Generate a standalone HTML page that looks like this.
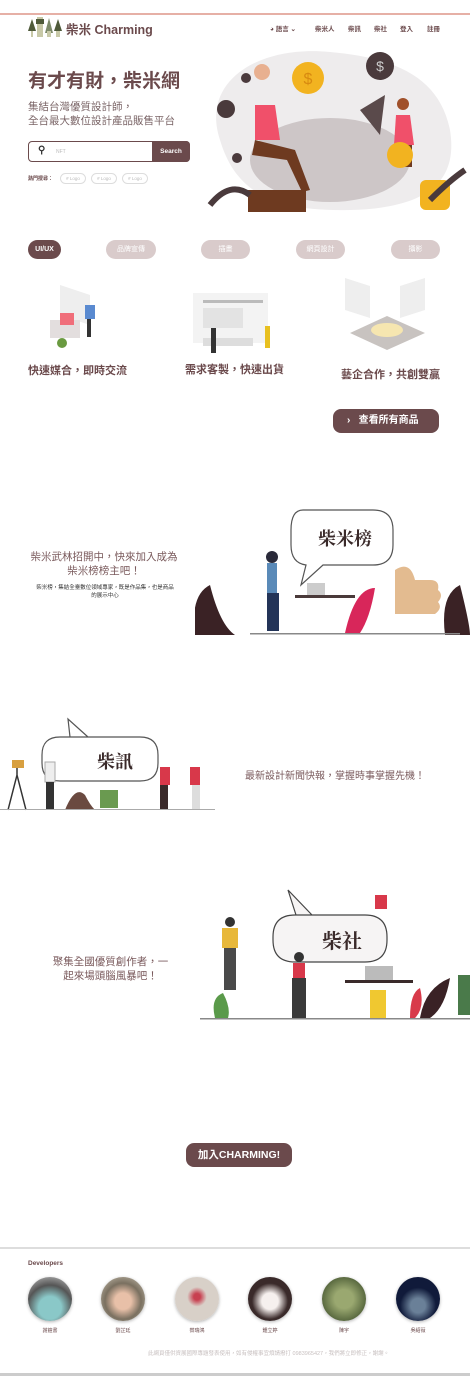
<!DOCTYPE html>
<html><head><meta charset="utf-8">
<style>
*{margin:0;padding:0;box-sizing:border-box}
body{width:470px;height:1376px;position:relative;background:#fff;font-family:"Liberation Sans","Noto Sans CJK TC",sans-serif;color:#6b4a4c;overflow:hidden}
.a{position:absolute}
.pill{position:absolute;top:240px;height:19px;border-radius:10px;background:#d9cbcb;color:#fff;font-size:7px;text-align:center;line-height:19px}
.cap{position:absolute;font-size:11px;font-weight:bold;color:#6b4a4c}
.av{position:absolute;top:1277px;width:44px;height:44px;border-radius:50%;box-shadow:0 1px 3px rgba(0,0,0,.3)}
.nm{position:absolute;top:1327px;font-size:5px;color:#6b4a4c;width:44px;text-align:center}
</style></head><body>
<div class="a" style="left:0;top:13px;width:470px;height:1.5px;background:#e6b0a6"></div>

<svg class="a" style="left:28px;top:15px" width="34" height="24">
<polygon points="4,4 0,16 8,16" fill="#4f5a3a"/><rect x="3" y="16" width="2" height="6" fill="#c8c9a8"/>
<rect x="9" y="2" width="6" height="20" fill="#c8c9a8"/><rect x="8" y="4" width="8" height="5" fill="#4f5a3a"/>
<polygon points="21,3 17,18 25,18" fill="#7d8a6a"/><rect x="19" y="16" width="4" height="6" fill="#c8c9a8"/>
<polygon points="30,4 26,16 34,16" fill="#4f5a3a"/><rect x="28" y="16" width="4" height="6" fill="#c8c9a8"/>
</svg>
<div class="a" style="left:66px;top:19px;font-size:12.5px;font-weight:bold">柴米 Charming</div>
<div class="a" style="left:270px;top:23px;font-size:6.5px;font-weight:bold">◕ 語言 ⌄</div>
<div class="a" style="left:315px;top:23px;font-size:6.5px;font-weight:bold">柴米人</div>
<div class="a" style="left:348px;top:23px;font-size:6.5px;font-weight:bold">柴訊</div>
<div class="a" style="left:374px;top:23px;font-size:6.5px;font-weight:bold">柴社</div>
<div class="a" style="left:400px;top:23px;font-size:6.5px;font-weight:bold">登入</div>
<div class="a" style="left:427px;top:23px;font-size:6.5px;font-weight:bold">註冊</div>

<div class="a" style="left:28px;top:66px;font-size:19px;font-weight:bold">有才有財，柴米網</div>
<div class="a" style="left:28px;top:100px;font-size:10.5px;line-height:14px;color:#7a6466">集結台灣優質設計師，<br>全台最大數位設計產品販售平台</div>
<div class="a" style="left:28px;top:141px;width:162px;height:21px;border:1px solid #6b4a4c;border-radius:4px"></div>
<div class="a" style="left:38px;top:145px;font-size:10px;font-weight:bold;color:#333">⚲</div>
<div class="a" style="left:56px;top:149px;font-size:5px;color:#bbb">NFT</div>
<div class="a" style="left:152px;top:141px;width:38px;height:21px;background:#6b4a4c;border-radius:0 4px 4px 0;color:#fff;font-size:6.5px;font-weight:bold;text-align:center;line-height:21px">Search</div>
<div class="a" style="left:28px;top:175px;font-size:5px;font-weight:bold">熱門搜尋：</div>
<div class="a" style="left:60px;top:173px;width:26px;height:11px;border:1px solid #ddd;border-radius:6px;font-size:4.5px;color:#bbb;text-align:center;line-height:10px"># Logo</div>
<div class="a" style="left:91px;top:173px;width:26px;height:11px;border:1px solid #ddd;border-radius:6px;font-size:4.5px;color:#bbb;text-align:center;line-height:10px"># Logo</div>
<div class="a" style="left:122px;top:173px;width:26px;height:11px;border:1px solid #ddd;border-radius:6px;font-size:4.5px;color:#bbb;text-align:center;line-height:10px"># Logo</div>

<svg class="a" style="left:200px;top:40px" width="270" height="175">
<path d="M20,100 C0,40 60,5 130,12 C200,18 240,40 250,90 C258,140 230,168 150,170 C70,172 35,150 20,100Z" fill="#eeeced"/>
<ellipse cx="130" cy="120" rx="80" ry="42" fill="#cdc6c7"/>
<polygon points="160,70 185,55 180,95" fill="#5a4a4b"/>
<circle cx="180" cy="26" r="14" fill="#4a3a3c"/><text x="180" y="31" font-size="14" fill="#ccc" text-anchor="middle">$</text>
<circle cx="108" cy="38" r="16" fill="#f2b320"/><text x="108" y="44" font-size="16" fill="#d88a10" text-anchor="middle">$</text>
<circle cx="26" cy="69" r="9" fill="#4a3a3c"/><circle cx="46" cy="38" r="5" fill="#4a3a3c"/><circle cx="37" cy="118" r="5" fill="#4a3a3c"/>
<path d="M55,65 h20 l5,35 h-25z" fill="#f0506a"/><path d="M55,100 l40,10 l15,40 l-8,2 l-15-32 l-35-5z" fill="#6e3a20"/>
<circle cx="62" cy="32" r="8" fill="#e8b090"/>
<path d="M196,75 h14 l4,30 h-20z" fill="#f0506a"/><rect x="198" y="105" width="14" height="22" fill="#6e3a20"/><circle cx="203" cy="64" r="6" fill="#a0502a"/>
<circle cx="200" cy="115" r="13" fill="#f2b320"/>
<rect x="220" y="140" width="30" height="30" rx="6" fill="#f2b320"/><rect x="48" y="150" width="58" height="22" fill="#6e3a20"/>
<path d="M10,165 q20,-25 40,-10 M230,160 q20,-20 35,-30" stroke="#4a3a3c" stroke-width="6" fill="none"/>
</svg>

<div class="pill" style="left:28px;width:33px;background:#6b4a4c;font-weight:bold">UI/UX</div>
<div class="pill" style="left:106px;width:50px">品牌宣傳</div>
<div class="pill" style="left:201px;width:49px">插畫</div>
<div class="pill" style="left:296px;width:49px">網頁設計</div>
<div class="pill" style="left:391px;width:49px">攝影</div>

<svg class="a" style="left:45px;top:285px" width="65" height="72">
<polygon points="15,0 45,10 45,40 15,30" fill="#eee"/><rect x="5" y="35" width="30" height="18" fill="#e3dede"/>
<rect x="15" y="28" width="14" height="12" fill="#f06e7a"/><rect x="40" y="20" width="10" height="14" fill="#5a8ad0"/>
<rect x="42" y="34" width="4" height="18" fill="#333"/><circle cx="17" cy="58" r="5" fill="#6a9a40"/>
</svg>
<svg class="a" style="left:183px;top:288px" width="95" height="75">
<rect x="10" y="5" width="75" height="50" fill="#f3f3f3"/><rect x="20" y="12" width="60" height="3" fill="#bbb"/>
<rect x="20" y="20" width="40" height="20" fill="#e3e3e3"/><rect x="20" y="50" width="50" height="8" fill="#ddd"/>
<rect x="28" y="40" width="5" height="25" fill="#333"/><rect x="82" y="38" width="5" height="22" fill="#e8c020"/>
</svg>
<svg class="a" style="left:345px;top:278px" width="85" height="85">
<polygon points="0,0 25,8 25,40 0,32" fill="#eee"/><polygon points="55,8 80,0 80,32 55,40" fill="#eee"/>
<polygon points="5,55 42,38 80,55 42,72" fill="#c8c3c0"/><ellipse cx="42" cy="52" rx="16" ry="7" fill="#f6e6b0"/>
</svg>

<div class="cap" style="left:28px;top:362px">快速媒合，即時交流</div>
<div class="cap" style="left:185px;top:361px">需求客製，快速出貨</div>
<div class="cap" style="left:341px;top:366px">藝企合作，共創雙贏</div>

<div class="a" style="left:333px;top:409px;width:106px;height:24px;background:#6b4a4c;border-radius:8px;color:#fff;font-size:10px;font-weight:bold;line-height:24px;padding-left:14px">›&nbsp;&nbsp; 查看所有商品</div>

<div class="a" style="left:28px;top:550px;width:152px;text-align:center;font-size:10.5px;line-height:14px;color:#7a5a5c">柴米武林招開中，快來加入成為柴米榜榜主吧！</div>
<div class="a" style="left:36px;top:585px;width:138px;text-align:center;font-size:5.5px;line-height:7.5px;color:#333">柴米榜，集結全臺數位領域專家，既是作品集，也是商品的展示中心</div>
<svg class="a" style="left:195px;top:505px" width="275" height="135">
<path d="M108,5 h70 q20,0 20,20 v15 q0,20 -20,20 h-50 l-22,20 l5,-20 q-15,-2 -15,-20 v-15 q0,-20 12,-20z" fill="#fff" stroke="#555" stroke-width="1.2"/>
<text x="150" y="40" font-size="18" font-weight="bold" text-anchor="middle" fill="#3a2a2a" font-family="Noto Serif CJK SC,serif">柴米榜</text>
<path d="M200,65 q15,-10 20,10 h15 q10,0 8,10 q6,5 0,12 q5,6 -3,12 h-40z" fill="#e3bb90"/>
<path d="M0,130 q-5,-40 15,-50 q10,40 25,50z M250,130 q-5,-40 15,-50 q10,40 10,50z" fill="#3a2225"/>
<path d="M150,128 q10,-45 30,-45 q-5,30 -15,45z" fill="#d8265a"/>
<rect x="72" y="58" width="10" height="30" fill="#5a8ab8"/><rect x="72" y="88" width="12" height="38" fill="#233458"/><circle cx="77" cy="52" r="6" fill="#2a2a3a"/>
<rect x="100" y="90" width="60" height="3" fill="#4a3a3a"/><rect x="112" y="78" width="18" height="12" fill="#ccc"/>
<rect x="55" y="128" width="210" height="1.5" fill="#888"/>
</svg>

<svg class="a" style="left:0;top:712px" width="215" height="100">
<path d="M60,25 h80 q18,0 18,18 v8 q0,18 -18,18 h-80 q-18,0 -18,-18 v-8 q0,-18 18,-18z M70,25 l-2,-18 l20,18" fill="#fff" stroke="#555" stroke-width="1.2"/>
<text x="115" y="56" font-size="18" font-weight="bold" text-anchor="middle" fill="#3a2a2a" font-family="Noto Serif CJK SC,serif">柴訊</text>
<path d="M8,98 l9,-35 l9,35 M17,63 v-10" stroke="#333" stroke-width="1.5" fill="none"/><rect x="12" y="48" width="12" height="8" fill="#d8a040"/>
<rect x="45" y="50" width="10" height="20" fill="#eee" stroke="#aaa"/><rect x="46" y="70" width="8" height="28" fill="#333"/>
<rect x="160" y="55" width="10" height="18" fill="#d8384a"/><rect x="160" y="73" width="8" height="25" fill="#3a2a2a"/>
<rect x="190" y="55" width="10" height="18" fill="#d8384a"/><rect x="192" y="73" width="8" height="25" fill="#ddd"/>
<path d="M65,98 q10,-25 20,-15 q5,10 10,15z" fill="#6a4a40"/><rect x="100" y="78" width="18" height="18" fill="#6a9a50"/>
<rect x="0" y="97" width="215" height="1" fill="#aaa"/>
</svg>
<div class="a" style="left:245px;top:767px;font-size:10px;color:#7a5a5c">最新設計新聞快報，掌握時事掌握先機！</div>

<div class="a" style="left:48px;top:955px;width:125px;text-align:center;font-size:10.5px;line-height:14px;color:#7a5a5c">聚集全國優質創作者，一起來場頭腦風暴吧！</div>
<svg class="a" style="left:200px;top:880px" width="270" height="142">
<path d="M95,35 h70 q22,0 22,22 v3 q0,22 -22,22 h-70 q-22,0 -22,-22 v-3 q0,-22 22,-22z M112,35 l-24,-25 l8,25" fill="#f6f4f4" stroke="#444" stroke-width="1.2"/>
<text x="142" y="68" font-size="20" font-weight="bold" text-anchor="middle" fill="#3a2a2a" font-family="Noto Serif CJK SC,serif">柴社</text>
<rect x="22" y="48" width="16" height="20" fill="#e8b83a"/><rect x="24" y="68" width="12" height="42" fill="#4a4a4a"/><circle cx="30" cy="42" r="5" fill="#333"/>
<rect x="93" y="83" width="12" height="15" fill="#d8384a"/><rect x="92" y="98" width="14" height="40" fill="#3a3a3a"/><circle cx="99" cy="77" r="5" fill="#333"/>
<rect x="145" y="100" width="68" height="3" fill="#3a2a2a"/><rect x="165" y="86" width="28" height="14" fill="#bbb"/>
<rect x="170" y="110" width="16" height="28" fill="#f0c830"/><rect x="175" y="15" width="12" height="14" fill="#d8384a"/>
<path d="M220,138 q5,-30 30,-40 q-5,30 -20,40z" fill="#3a2225"/><path d="M210,138 q0,-25 10,-30 q5,20 -5,30z" fill="#d83a4a"/>
<rect x="258" y="95" width="12" height="40" fill="#4a7a4a"/><path d="M15,138 q-5,-20 8,-25 q8,15 5,25z" fill="#5a9a4a"/>
<rect x="0" y="138" width="270" height="1.5" fill="#888"/>
</svg>

<div class="a" style="left:186px;top:1143px;width:106px;height:24px;background:#6b4a4c;border-radius:8px;color:#fff;font-size:10.5px;font-weight:bold;text-align:center;line-height:24px">加入CHARMING!</div>

<div class="a" style="left:0;top:1247px;width:470px;height:2px;background:#ddd"></div>
<div class="a" style="left:28px;top:1260px;font-size:6.5px;font-weight:bold">Developers</div>
<div class="av" style="left:28px;background:radial-gradient(circle at 50% 70%,#8ac8c8 30%,#555 60%,#ccc)"></div>
<div class="av" style="left:101px;background:radial-gradient(circle at 50% 55%,#e8c0a8 25%,#7a7060 55%,#cfc8b8)"></div>
<div class="av" style="left:175px;background:radial-gradient(circle at 50% 45%,#c84050 10%,#d8d0c8 30%)"></div>
<div class="av" style="left:248px;background:radial-gradient(circle at 50% 55%,#f6f0ee 25%,#3a2a2a 55%)"></div>
<div class="av" style="left:322px;background:radial-gradient(circle at 50% 50%,#9aa870 30%,#5a6a40 70%)"></div>
<div class="av" style="left:396px;background:radial-gradient(circle at 50% 65%,#6a8098 20%,#101a3a 50%)"></div>
<div class="nm" style="left:28px">謝鎧書</div>
<div class="nm" style="left:101px">劉芷廷</div>
<div class="nm" style="left:175px">蔡瑞鴻</div>
<div class="nm" style="left:248px">鍾立婷</div>
<div class="nm" style="left:322px">陳宇</div>
<div class="nm" style="left:396px">吳紹薇</div>
<div class="a" style="left:148px;top:1349px;font-size:5.5px;color:#c8c0c0;white-space:nowrap">此網頁僅供資展國際專題發表使用，如有侵權事宜煩請撥打 0983965427，我們將立即修正，謝謝。</div>
<div class="a" style="left:0;top:1373px;width:470px;height:3px;background:#ccc"></div>
</body></html>
